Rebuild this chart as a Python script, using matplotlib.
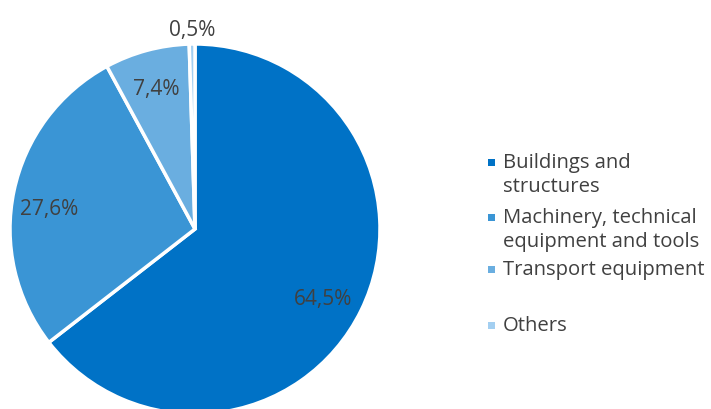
import matplotlib
matplotlib.use("Agg")
import matplotlib.pyplot as plt
import numpy as np
from matplotlib.patches import Rectangle

categories = ["Buildings and\nstructures",
              "Machinery, technical\nequipment and tools",
              "Transport equipment",
              "Others"]
values = [64.5, 27.6, 7.4, 0.5]
colors = ["#0072C6", "#3A95D5", "#6AAEE0", "#A3CFF1"]

plt.rcParams['font.family'] = ['Open Sans', 'DejaVu Sans']
text_color = "#404040"

W, H = 711, 410
fig = plt.figure(figsize=(W / 100, H / 100), dpi=100)

cx, cy, r = 195, 230, 185
ax = fig.add_axes([(cx - r) / W, (H - cy - r) / H, 2 * r / W, 2 * r / H])
wedges, _ = ax.pie(values, colors=colors, startangle=90, counterclock=False,
                   radius=1, wedgeprops=dict(edgecolor="white", linewidth=2.5))
ax.set_xlim(-1, 1)
ax.set_ylim(-1, 1)
ax.set_aspect("auto")
ax.axis("off")

label_r = [0.78, 0.80, 0.80, 1.09]
label_dang = [-1.5, 3.0, 0.0, 0.0]
for w, v, lr, da in zip(wedges, values, label_r, label_dang):
    ang = np.deg2rad((w.theta1 + w.theta2) / 2 + da)
    ax.text(lr * np.cos(ang), lr * np.sin(ang), f"{v:.1f}".replace(".", ",") + "%",
            ha="center", va="center_baseline", fontsize=15, color=text_color,
            clip_on=False)

# legend
legend_y = [163, 218, 270, 326]
line_h = 24
for cat, col, y in zip(categories, colors, legend_y):
    fig.patches.append(Rectangle((488 / W, (H - y - 3.5) / H), 7 / W, 7 / H,
                                 transform=fig.transFigure, facecolor=col,
                                 edgecolor="none"))
    for i, line in enumerate(cat.split("\n")):
        fig.text(503 / W, (H - y - i * line_h) / H, line, ha="left", va="center",
                 fontsize=14.6, color=text_color)

fig.savefig("out.png", dpi=100)
